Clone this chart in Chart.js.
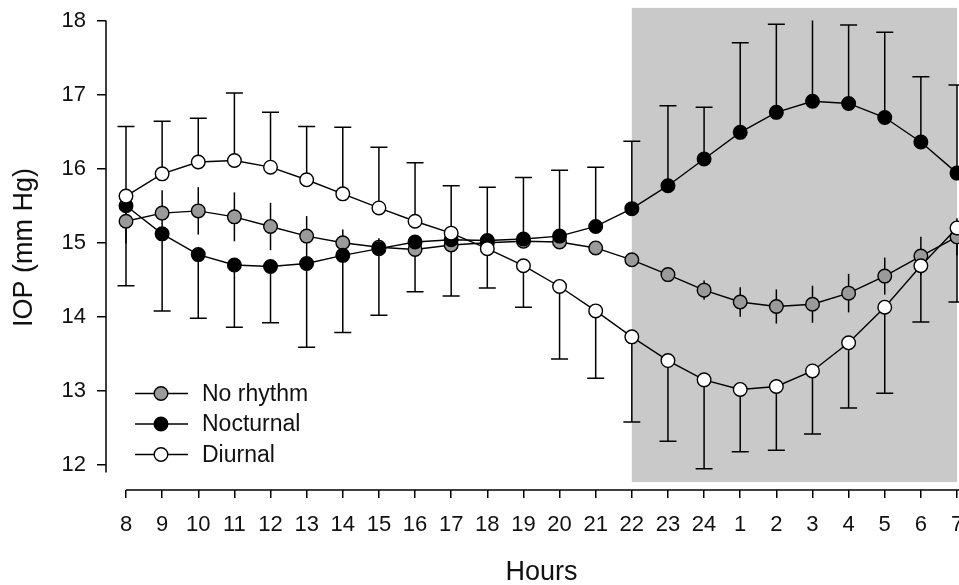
<!DOCTYPE html>
<html><head><meta charset="utf-8">
<script src="https://cdn.jsdelivr.net/npm/chart.js@4.4.1/dist/chart.umd.min.js"></script>
<style>html,body{margin:0;padding:0;background:#fff;overflow:hidden}</style>
</head><body>
<canvas id="c" width="959" height="585"></canvas>
<script>
// ---- data ----
const hours = ['8','9','10','11','12','13','14','15','16','17','18','19','20','21','22','23','24','1','2','3','4','5','6','7'];
const yTicks = [12,13,14,15,16,17,18];

const noRhythm    = [15.29,15.40,15.43,15.35,15.22,15.09,15.00,14.94,14.91,14.97,15.00,15.02,15.01,14.93,14.77,14.57,14.36,14.20,14.14,14.17,14.32,14.55,14.82,15.08];
const noRhythmErr = [0.30,0.31,0.32,0.33,0.32,0.27,0.18,0.12,0.08,0.08,0.08,0.08,0.08,0.08,0.08,0.08,0.13,0.20,0.23,0.25,0.26,0.25,0.26,0.25];

const nocturnal        = [15.50,15.12,14.84,14.70,14.68,14.72,14.83,14.92,15.01,15.04,15.03,15.05,15.09,15.22,15.46,15.77,16.13,16.49,16.76,16.91,16.88,16.69,16.36,15.94];
const nocturnalErrUp   = [null,null,null,null,null,null,null,null,null,null,0.72,0.83,0.89,0.80,0.91,1.08,0.70,1.21,1.19,1.20,1.06,1.15,0.88,1.19];
const nocturnalErrDown = [1.08,1.04,0.86,0.84,0.76,1.13,1.04,0.90,0.67,0.76,null,null,null,null,null,null,null,null,null,null,null,null,null,null];

const diurnal        = [15.63,15.93,16.09,16.11,16.02,15.85,15.66,15.47,15.29,15.13,14.92,14.69,14.41,14.08,13.73,13.41,13.15,13.02,13.06,13.27,13.65,14.13,14.69,15.20];
const diurnalErrUp   = [0.94,0.71,0.59,0.91,0.74,0.72,0.90,0.82,0.79,0.64,null,null,null,null,null,null,null,null,null,null,null,null,null,null];
const diurnalErrDown = [null,null,null,null,null,null,null,null,null,null,0.53,0.56,0.98,0.91,1.15,1.09,1.20,0.84,0.86,0.85,0.88,1.16,0.76,1.00];

const darkPeriod = ['22','7'];     // shaded night span (hours)
const darkBand   = [11.77, 18.17]; // vertical extent of shading (mm Hg)
const yAxisBottom = 11.9;          // where the drawn y axis line ends
const xTitle = 'Hours';
const yTitle = 'IOP (mm Hg)';

// ---- helpers ----
const FONT = '"Liberation Sans", Arial, sans-serif';
const pts = arr => arr.map((v,i)=>({x:i,y:v}));

const decor = {
  id:'decor',
  beforeDatasetsDraw(chart){
    const {ctx, chartArea, scales:{x,y}} = chart;
    ctx.save();
    // night shading
    const xs = x.getPixelForValue(hours.indexOf(darkPeriod[0]));
    const xe = x.getPixelForValue(hours.lastIndexOf(darkPeriod[1]));
    const yt = y.getPixelForValue(darkBand[1]);
    const yb = y.getPixelForValue(darkBand[0]);
    ctx.fillStyle = '#c9c9c9';
    ctx.fillRect(xs, yt, xe-xs, yb-yt);
    // axis lines
    ctx.strokeStyle = '#000'; ctx.lineWidth = 1.5;
    ctx.beginPath();
    ctx.moveTo(chartArea.left, y.getPixelForValue(yTicks[yTicks.length-1]));
    ctx.lineTo(chartArea.left, y.getPixelForValue(yAxisBottom));
    ctx.moveTo(x.getPixelForValue(0), chartArea.bottom);
    ctx.lineTo(x.getPixelForValue(hours.length-1)+2, chartArea.bottom);
    ctx.stroke();
    // x axis title, centred under the tick span
    ctx.fillStyle = '#111'; ctx.font = '27px ' + FONT;
    ctx.textAlign = 'center'; ctx.textBaseline = 'middle';
    ctx.fillText(xTitle, (x.getPixelForValue(0) + x.getPixelForValue(hours.length-1))/2, 573);
    // error bars
    const yTop = yTicks[yTicks.length-1];
    const order = chart.getSortedVisibleDatasetMetas().slice().reverse();
    order.forEach(meta=>{
      const ds = chart.data.datasets[meta.index];
      const cap = ds.errCap;
      ctx.lineWidth = 1.5; ctx.strokeStyle = '#000';
      meta.data.forEach((el,i)=>{
        const v = ds.data[i].y;
        const px = el.x;
        const segs = [];
        if (ds.errUp && ds.errUp[i] != null) segs.push(v + ds.errUp[i]);
        if (ds.errDown && ds.errDown[i] != null) segs.push(v - ds.errDown[i]);
        segs.forEach(end=>{
          let clipped = false;
          if (end > yTop) { end = yTop; clipped = true; }
          const p0 = y.getPixelForValue(v), p1 = y.getPixelForValue(end);
          ctx.beginPath();
          ctx.moveTo(px, p0); ctx.lineTo(px, p1);
          if (cap && !clipped) { ctx.moveTo(px-cap, p1); ctx.lineTo(px+cap, p1); }
          ctx.stroke();
        });
      });
    });
    ctx.restore();
  },
  afterDraw(chart){
    const {ctx} = chart;
    const L = {x0:135, x1:188, mx:161, tx:202, y0:393.5, dy:30.5};
    ctx.save();
    chart.data.datasets.forEach((ds,i)=>{
      const yy = L.y0 + i*L.dy;
      ctx.strokeStyle = '#000'; ctx.lineWidth = 1.4;
      ctx.beginPath(); ctx.moveTo(L.x0, yy); ctx.lineTo(L.x1, yy); ctx.stroke();
      ctx.beginPath(); ctx.arc(L.mx, yy, ds.pointRadius, 0, Math.PI*2);
      ctx.fillStyle = ds.pointBackgroundColor; ctx.fill();
      ctx.lineWidth = ds.pointBorderWidth; ctx.stroke();
      ctx.fillStyle = '#111'; ctx.font = '23px ' + FONT;
      ctx.textBaseline = 'middle'; ctx.textAlign = 'left';
      ctx.fillText(ds.label, L.tx, yy + 1);
    });
    ctx.restore();
  }
};

function mkSet(label, vals, up, down, fill, order, cap){
  return {
    label, data: pts(vals), errUp: up, errDown: down, errCap: cap,
    borderColor:'#000', borderWidth:1.4, tension:0,
    pointRadius:6.8, pointHoverRadius:6.8, pointBackgroundColor:fill,
    pointBorderColor:'#000', pointBorderWidth:1.4, order, clip:false
  };
}

new Chart(document.getElementById('c'), {
  type:'line',
  data:{ datasets:[
    mkSet('No rhythm', noRhythm, noRhythmErr, noRhythmErr, '#9a9a9a', 2, 0),
    mkSet('Nocturnal', nocturnal, nocturnalErrUp, nocturnalErrDown, '#000000', 1, 8.5),
    mkSet('Diurnal', diurnal, diurnalErrUp, diurnalErrDown, '#ffffff', 0, 8.5)
  ]},
  options:{
    responsive:false, animation:false, devicePixelRatio:1,
    layout:{autoPadding:false, padding:{top:5, right:2, left:0, bottom:0}},
    plugins:{legend:{display:false}, tooltip:{enabled:false}},
    events:[],
    scales:{
      x:{
        type:'linear', min:-0.5535, max:hours.length-1,
        afterBuildTicks: s => { s.ticks = hours.map((h,i)=>({value:i})); },
        afterFit: s => { s.height = 95; s.paddingLeft = 0; s.paddingRight = 0; },
        ticks:{ callback: v => hours[v], autoSkip:false, maxRotation:0, padding:14,
                color:'#111', font:{family:FONT, size:22} },
        grid:{ drawOnChartArea:false, drawTicks:true, tickLength:8, color:'#000', lineWidth:1.5 },
        border:{ display:false },
        title:{ display:false }
      },
      y:{
        type:'linear', min:11.663, max:18.209,
        afterBuildTicks: s => { s.ticks = yTicks.map(v=>({value:v})); },
        afterFit: s => { s.width = 106; s.paddingTop = 0; s.paddingBottom = 0; },
        ticks:{ padding:11, color:'#111', font:{family:FONT, size:22} },
        grid:{ drawOnChartArea:false, drawTicks:true, tickLength:9, color:'#000', lineWidth:1.5 },
        border:{ display:false },
        title:{ display:true, text:yTitle, color:'#111', padding:{top:11},
                font:{family:FONT, size:27, lineHeight:1} }
      }
    }
  },
  plugins:[decor]
});
</script>
</body></html>
